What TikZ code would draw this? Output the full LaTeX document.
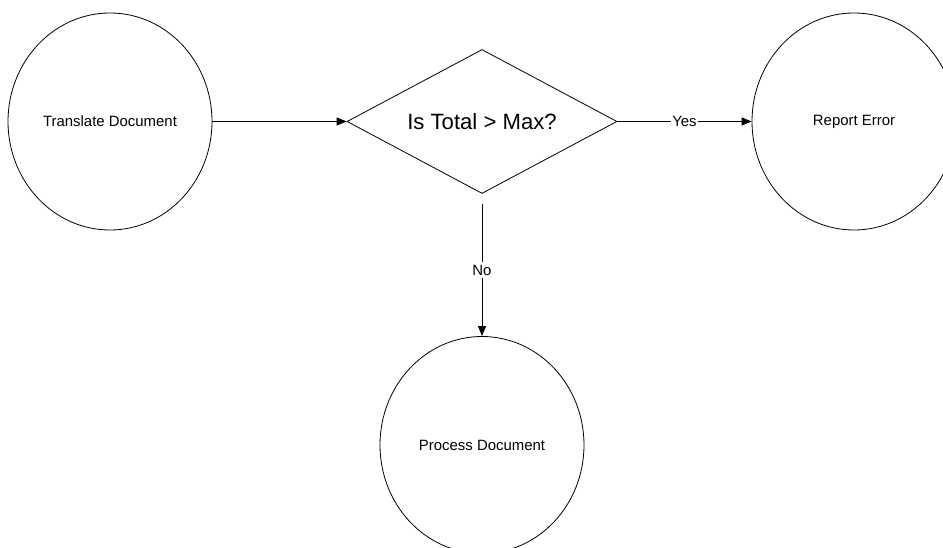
\documentclass[tikz,border=0pt]{standalone}
\usepackage{fontspec}
\setmainfont{Liberation Sans}
\usetikzlibrary{shapes.geometric, arrows.meta}

\begin{document}
\begin{tikzpicture}[x=0.75pt, y=-0.75pt,
    proc/.style={ellipse, draw, line width=0.6pt, inner sep=0pt,
        minimum width=153pt, minimum height=162.75pt,
        font=\fontsize{11.2}{13}\selectfont},
    decision/.style={diamond, draw, line width=0.6pt, inner sep=0pt,
        shape aspect=1.875, minimum width=202.5pt, minimum height=108pt,
        font=\fontsize{16.6}{19}\selectfont},
    flow/.style={-{Triangle[length=7.5pt,width=6pt]}, line width=0.6pt},
    answer/.style={fill=white, font=\fontsize{11.2}{13}\selectfont}]
    \useasboundingbox (0,0) rectangle (943,548);
    % tikz code goes here
    \node[proc] (translate) at (110,121.5) {Translate Document};
    \node[decision] (check) at (482,121.5) {Is Total > Max?};
    \node[proc] (report) at (854,121.5) {Report Error};
    \node[proc] (process) at (482,445) {Process Document};

    \draw[flow] (translate.east) -- (check.west);
    \draw[flow] (check.east) -- node[answer, inner sep=1pt]{Yes} (report.west);
    \draw[flow, shorten <=7.5pt] (check.south) -- node[answer, inner sep=2pt, pos=0.535]{No} (process.north);
\end{tikzpicture}
\end{document}
